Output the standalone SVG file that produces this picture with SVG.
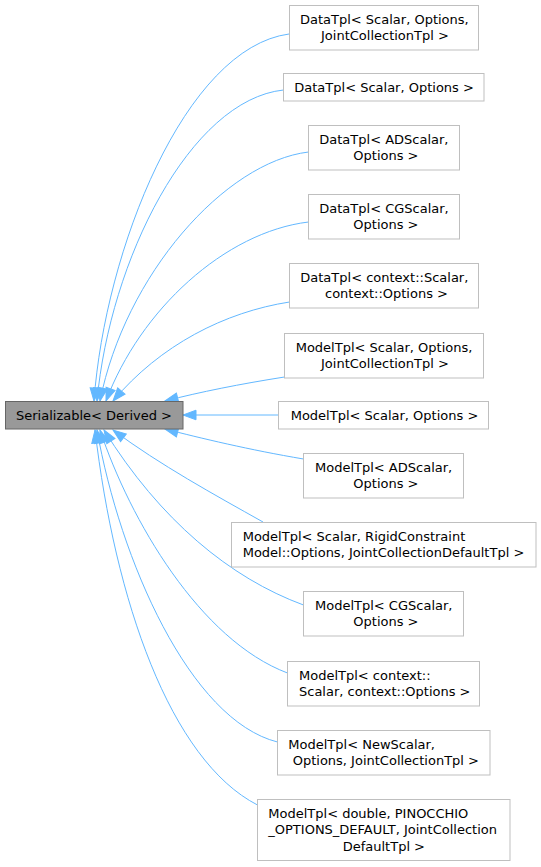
<svg xmlns="http://www.w3.org/2000/svg" width="541" height="867" viewBox="0 0 541 867">
<defs>
<style>
.n rect{fill:#ffffff;stroke:#bfbfbf;stroke-width:1}
.m rect{fill:#999999;stroke:#666666;stroke-width:1}
text{font-family:"DejaVu Sans","Liberation Sans",sans-serif;font-size:13px;fill:#000000}
.c{text-anchor:middle}
.e path{fill:none;stroke:#63b8ff;stroke-width:1;marker-end:url(#ah)}
</style>
<marker id="ah" markerUnits="userSpaceOnUse" markerWidth="16" markerHeight="12" refX="14" refY="6" orient="auto" viewBox="0 0 16 12">
<path d="M14,6 L1,1.2 L1,10.8 Z" fill="#63b8ff" stroke="#63b8ff" stroke-width="1"/>
</marker>
</defs>
<rect width="541" height="867" fill="#ffffff"/>
<g id="edges" class="e">
<path d="M289,34 C185,48 105,250 94,401"/>
<path d="M283.5,90 C190,100 110,260 97,401"/>
<path d="M308.5,152 C225,162 125,275 100,401"/>
<path d="M308.5,222 C225,232 140,310 106,401"/>
<path d="M289.5,302 C225,312 160,345 113,401"/>
<path d="M284.5,377 C240,384 200,392 165,401"/>
<path d="M278.5,415 L183,415"/>
<path d="M303.5,459 C250,450 200,438 165,429"/>
<path d="M263,522 C215,495 160,465 113,430"/>
<path d="M303.5,605 C230,578 160,520 104,430"/>
<path d="M287.5,673 C200,640 130,520 100,430"/>
<path d="M277.5,742 C190,720 120,560 97,430"/>
<path d="M257.5,805 C170,760 115,600 95,430"/>
</g>
<g id="main" class="m">
<rect x="5.5" y="401.5" width="177.5" height="27.5"/>
<text x="16" y="420">Serializable&lt; Derived &gt;</text>
</g>
<g id="n1" class="n">
<rect x="289.5" y="5.5" width="189" height="44.5"/>
<text x="300" y="24.2">DataTpl&lt; Scalar, Options,</text>
<text x="321" y="40.2">JointCollectionTpl &gt;</text>
</g>
<g id="n2" class="n">
<rect x="283.5" y="73.5" width="200.5" height="27.5"/>
<text x="294.3" y="92">DataTpl&lt; Scalar, Options &gt;</text>
</g>
<g id="n3" class="n">
<rect x="308.5" y="125.5" width="151" height="44.5"/>
<text x="319.3" y="144.2">DataTpl&lt; ADScalar,</text>
<text x="353.3" y="160.2">Options &gt;</text>
</g>
<g id="n4" class="n">
<rect x="308.5" y="194.5" width="151" height="44.5"/>
<text x="319.3" y="213.2">DataTpl&lt; CGScalar,</text>
<text x="353.3" y="229.2">Options &gt;</text>
</g>
<g id="n5" class="n">
<rect x="289.5" y="263.5" width="189" height="44.5"/>
<text x="300.3" y="282.2">DataTpl&lt; context::Scalar,</text>
<text x="325" y="298.2">context::Options &gt;</text>
</g>
<g id="n6" class="n">
<rect x="284.5" y="333.5" width="199" height="44.5"/>
<text x="295.7" y="352.2">ModelTpl&lt; Scalar, Options,</text>
<text x="321" y="368.2">JointCollectionTpl &gt;</text>
</g>
<g id="n7" class="n">
<rect x="278.5" y="401.5" width="210" height="27.5"/>
<text x="290.7" y="420">ModelTpl&lt; Scalar, Options &gt;</text>
</g>
<g id="n8" class="n">
<rect x="303.5" y="453.5" width="160" height="44.5"/>
<text x="315" y="472.2">ModelTpl&lt; ADScalar,</text>
<text x="353.3" y="488.2">Options &gt;</text>
</g>
<g id="n9" class="n">
<rect x="231.5" y="522.5" width="304.5" height="44.5"/>
<text x="242.7" y="541.2">ModelTpl&lt; Scalar, RigidConstraint</text>
<text x="242.7" y="557.2">Model::Options, JointCollectionDefaultTpl &gt;</text>
</g>
<g id="n10" class="n">
<rect x="303.5" y="591.5" width="160" height="44.5"/>
<text x="315" y="610.2">ModelTpl&lt; CGScalar,</text>
<text x="353.3" y="626.2">Options &gt;</text>
</g>
<g id="n11" class="n">
<rect x="287.5" y="661.5" width="192" height="44.5"/>
<text x="299" y="680.2">ModelTpl&lt; context::</text>
<text x="299" y="696.2">Scalar, context::Options &gt;</text>
</g>
<g id="n12" class="n">
<rect x="277.5" y="730.5" width="212.5" height="44.5"/>
<text x="288.3" y="749.2">ModelTpl&lt; NewScalar,</text>
<text x="292.7" y="765.2">Options, JointCollectionTpl &gt;</text>
</g>
<g id="n13" class="n">
<rect x="257.5" y="799.5" width="252.5" height="61"/>
<text x="268.3" y="817.8">ModelTpl&lt; double, PINOCCHIO</text>
<text x="268.3" y="834.3">_OPTIONS_DEFAULT, JointCollection</text>
<text x="342.7" y="850.8">DefaultTpl &gt;</text>
</g>
</svg>
